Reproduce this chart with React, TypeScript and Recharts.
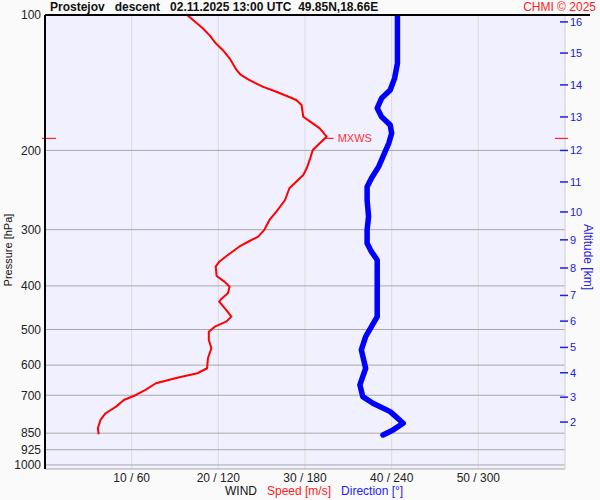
import { ScatterChart, Scatter, XAxis, YAxis, CartesianGrid, ReferenceLine, ReferenceDot } from 'recharts';

// wind speed profile [m/s] against pressure [hPa]
const speedPressure = [100, 107, 111, 115.6, 119.6, 124.8, 132.5, 135.9, 139.5, 144.3, 148.1, 151.4, 154.5, 158.5, 168.3, 172.6, 178.6, 186.4, 192.8, 199.5, 208.2, 219.1, 226.8, 236.6, 242.7, 257.7, 273.6, 285.4, 300.4, 310.9, 317.9, 327.3, 341.5, 353.4, 362.5, 380.2, 391.4, 401.6, 415.4, 428.3, 433.6, 452.4, 468.2, 480.4, 492.8, 505.6, 527.5, 550.4, 579.3, 609.7, 625.5, 638.5, 658.4, 681.3, 699, 717.1, 742, 767.5, 794.3, 828.8, 854.7];
const speedValues = [16.4, 18.2, 19.0, 19.7, 20.5, 21.3, 22.1, 22.6, 23.6, 25.1, 26.7, 27.9, 29.0, 29.6, 29.8, 30.6, 31.7, 32.5, 31.7, 30.9, 30.6, 30.2, 29.8, 28.8, 28.2, 27.7, 26.7, 25.9, 25.3, 24.6, 23.6, 22.4, 21.1, 20.1, 19.7, 19.8, 20.7, 21.3, 21.1, 20.3, 20.1, 20.9, 21.5, 20.9, 19.6, 18.9, 18.9, 19.2, 18.8, 18.7, 17.6, 15.5, 12.8, 11.6, 10.5, 9.1, 8.2, 7.0, 6.4, 6.1, 6.2];

// wind direction profile [deg]
const dirPressure = [100, 106.2, 128.1, 138.3, 146.8, 153.2, 161.1, 168.3, 175.6, 183.2, 192.8, 206.5, 217.3, 230.6, 240.7, 257.7, 280.6, 300.4, 321.6, 335.7, 350.3, 394.7, 426.1, 468.2, 492.8, 518.7, 555.2, 609.7, 664.1, 705.1, 729.3, 761.3, 807.7, 835.9, 857.7];
const dirValues = [244, 244, 244, 242, 239, 233, 230, 233, 239, 240, 238, 234, 231, 226, 223, 223, 224, 223, 223, 226, 230, 230, 230, 230, 226, 222, 219, 222, 218, 220, 227, 239, 248, 241, 234];

const pressureTicks = [100, 200, 300, 400, 500, 600, 700, 850, 925, 1000];
const windTicks = [10, 20, 30, 40, 50];
const altitudeKm = [2, 3, 4, 5, 6, 7, 8, 9, 10, 11, 12, 13, 14, 15, 16];
const altitudePressure = [803, 707, 624, 548, 479, 420, 365, 316, 274, 235, 200, 168.5, 143, 121.5, 103.6];
const maxWind = { speed: 32.5, pressure: 188 };

const speedRows = speedPressure.map((p, i) => ({ p, x: speedValues[i] }));
const dirRows = dirPressure.map((p, i) => ({ p, x: dirValues[i] / 6 }));

const font = '"Liberation Sans", Arial, sans-serif';

const AltTick = (props: any) => {
    const { x, y, payload } = props;
    const km = altitudeKm[altitudePressure.indexOf(payload.value)];
    return (
        <g>
            <line x1={x - 5} x2={x + 3} y1={y} y2={y} stroke="#2020e0" strokeWidth={1.5} />
            <text x={x + 5} y={y} dy={4} fill="#2020e0" fontSize={11} fontFamily={font}>{km}</text>
        </g>
    );
};

const MaxEdgeMarks = (props: any) => {
    const { x1, x2, y1 } = props;
    return (
        <g>
            <line x1={x1 - 3} x2={x1 + 11} y1={y1} y2={y1} stroke="#ff0000" />
            <line x1={x2 - 10} x2={x2 + 3} y1={y1} y2={y1} stroke="#ff0000" />
        </g>
    );
};

const MaxLabel = (props: any) => {
    const { cx, cy } = props;
    return (
        <g>
            <line x1={cx - 3} x2={cx + 7} y1={cy} y2={cy} stroke="#ff0000" />
            <text x={cx + 11} y={cy} dy={4} fill="#ff3030" fontSize={11} fontFamily={font}>MXWS</text>
        </g>
    );
};

export default function App() {
    return (
        <div style={{ position: 'relative', width: 600, height: 500, background: '#fafafa', fontFamily: font }}>
            <style>{'body{margin:0}'}</style>
            <ScatterChart width={600} height={500} margin={{ top: 15, right: 0, bottom: 0, left: 0 }}>
                <CartesianGrid yAxisId="p" horizontal={false} stroke="#dcdcdc" fill="#f0f0ff" fillOpacity={1} />
                <CartesianGrid yAxisId="p" vertical={false} stroke="#a8a8a8" />
                <XAxis
                    type="number"
                    dataKey="x"
                    domain={[0, 60]}
                    ticks={windTicks}
                    interval={0}
                    tickFormatter={(v: number) => `${v} / ${v * 6}`}
                    axisLine={false}
                    tickLine={false}
                    tickSize={0}
                    tickMargin={4}
                    height={31}
                    tick={{ fill: '#222', fontSize: 12, fontFamily: font }}
                />
                <YAxis
                    yAxisId="p"
                    type="number"
                    dataKey="p"
                    scale="log"
                    domain={[100, 1021]}
                    allowDataOverflow
                    reversed
                    ticks={pressureTicks}
                    interval={0}
                    width={45}
                    axisLine={{ stroke: '#000', strokeWidth: 2 }}
                    tickLine={false}
                    tickSize={0}
                    tickMargin={4}
                    tick={{ fill: '#222', fontSize: 12, fontFamily: font }}
                />
                <YAxis
                    yAxisId="alt"
                    orientation="right"
                    type="number"
                    scale="log"
                    domain={[100, 1021]}
                    allowDataOverflow
                    reversed
                    ticks={altitudePressure}
                    interval={0}
                    width={35}
                    axisLine={false}
                    tickLine={false}
                    tickSize={0}
                    tickMargin={0}
                    tick={AltTick}
                />
                <ReferenceLine yAxisId="p" x={60} stroke="#dcdcdc" />
                <ReferenceLine yAxisId="p" y={maxWind.pressure} ifOverflow="visible" shape={MaxEdgeMarks} />
                <Scatter
                    yAxisId="p"
                    data={dirRows}
                    line={{ stroke: '#0000ff', strokeWidth: 5.5, strokeLinejoin: 'round', strokeLinecap: 'round' }}
                    shape={() => <g />}
                    isAnimationActive={false}
                />
                <Scatter
                    yAxisId="p"
                    data={speedRows}
                    line={{ stroke: '#ff0000', strokeWidth: 2, strokeLinejoin: 'round' }}
                    shape={() => <g />}
                    isAnimationActive={false}
                />
                <ReferenceDot yAxisId="p" x={maxWind.speed} y={maxWind.pressure} ifOverflow="visible" shape={MaxLabel} />
            </ScatterChart>
            <div style={{ position: 'absolute', left: 45, top: 14, width: 545, height: 2, background: '#000' }} />
            <div style={{ position: 'absolute', left: 50, top: 0, fontSize: 12, fontWeight: 'bold', color: '#111', whiteSpace: 'pre', lineHeight: '14px' }}>
                {'Prostejov   descent   02.11.2025 13:00 UTC  49.85N,18.66E'}
            </div>
            <div style={{ position: 'absolute', right: 4, top: 0, fontSize: 12, color: '#ff2020', lineHeight: '14px' }}>CHMI © 2025</div>
            <div style={{ position: 'absolute', left: 8, top: 250, width: 0, height: 0 }}>
                <div style={{ position: 'absolute', transform: 'translate(-50%, -50%) rotate(-90deg)', whiteSpace: 'nowrap', fontSize: 11, color: '#111' }}>Pressure [hPa]</div>
            </div>
            <div style={{ position: 'absolute', left: 588, top: 257, width: 0, height: 0 }}>
                <div style={{ position: 'absolute', transform: 'translate(-50%, -50%) rotate(90deg)', whiteSpace: 'nowrap', fontSize: 12, color: '#2020e0' }}>Altitude [km]</div>
            </div>
            <div style={{ position: 'absolute', left: 225, top: 484, fontSize: 12, whiteSpace: 'pre', lineHeight: '14px' }}>
                <span style={{ color: '#111' }}>WIND</span>
                <span style={{ color: '#ff2020' }}>{'   Speed [m/s]'}</span>
                <span style={{ color: '#2020ff' }}>{'   Direction [°]'}</span>
            </div>
        </div>
    );
}
